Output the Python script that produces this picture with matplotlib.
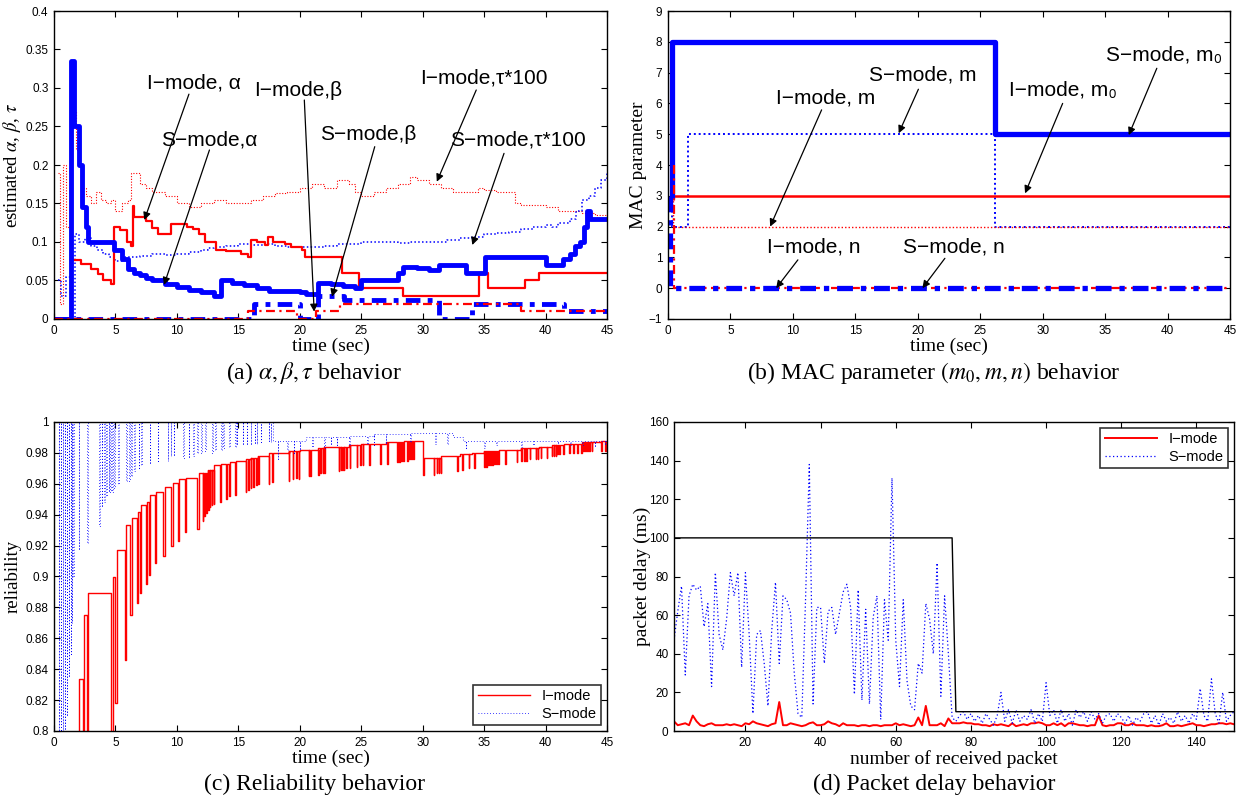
import matplotlib
matplotlib.use("Agg")
import matplotlib.pyplot as plt
import numpy as np
from matplotlib.ticker import FuncFormatter

plt.rcParams['font.family'] = ['Liberation Sans', 'DejaVu Sans']
plt.rcParams['mathtext.fontset'] = 'stix'

RED = '#ff0000'
BLUE = '#0000ff'
SERIF = ['Liberation Serif', 'DejaVu Serif']

# ---------------- (a) alpha, beta, tau ----------------
s_alpha_t = [0, 1.4, 1.6, 2.0, 2.3, 2.6, 2.8, 4.9, 5.5, 6.0, 6.5, 7.0, 7.5, 8.0, 9.0, 10.0, 11.0, 12.0, 13.0,
             13.6, 14.5, 15.5, 16.5, 17.5, 19.0, 20.0, 20.5, 21.5, 22.5, 23.5, 24.5, 25.0, 28.0, 28.4, 29.5,
             30.5, 31.3, 33.5, 35.1, 40.0, 41.4, 42.0, 42.4, 42.8, 43.1, 43.4, 43.6, 45.0]
s_alpha_v = [0, 0.335, 0.25, 0.2, 0.145, 0.12, 0.1, 0.09, 0.078, 0.065, 0.06, 0.057, 0.053, 0.05, 0.045, 0.042,
             0.038, 0.035, 0.03, 0.05, 0.047, 0.044, 0.04, 0.037, 0.036, 0.035, 0.032, 0.047, 0.045, 0.043, 0.04,
             0.05, 0.06, 0.068, 0.066, 0.063, 0.07, 0.06, 0.08, 0.07, 0.078, 0.085, 0.095, 0.1, 0.12, 0.14, 0.13,
             0.13]
i_alpha_t = [1.4, 2.2, 3.0, 3.6, 4.0, 4.6, 4.9, 5.4, 5.9, 6.3, 6.4, 6.5, 7.5, 8.0, 8.5, 9.5, 10.8, 11.3, 11.8,
             12.3, 13.2, 14.0, 15.2, 15.8, 16.0, 16.5, 17.2, 17.4, 17.8, 18.8, 19.3, 20.2, 20.4, 23.4, 24.8,
             28.4, 34.6, 35.3, 38.3, 39.5, 45.0]
i_alpha_v = [0.077, 0.072, 0.065, 0.058, 0.05, 0.045, 0.12, 0.115, 0.1, 0.095, 0.147, 0.132, 0.127, 0.118,
             0.11, 0.123, 0.12, 0.117, 0.11, 0.1, 0.09, 0.088, 0.085, 0.08, 0.103, 0.1, 0.096, 0.106, 0.1, 0.097,
             0.093, 0.09, 0.08, 0.06, 0.04, 0.03, 0.06, 0.04, 0.05, 0.06, 0.06]
i_tau_t = [0.3, 0.5, 0.7, 1.0, 1.3, 1.5, 1.8, 2.0, 2.3, 2.6, 3.0, 3.4, 3.8, 4.2, 4.6, 5.0, 5.5, 6.0, 6.3, 7.0,
           7.5, 8.0, 9.0, 10.0, 11.0, 12.0, 13.0, 14.0, 15.0, 16.0, 17.0, 18.0, 19.0, 20.0, 21.0, 22.0, 23.0,
           24.0, 24.5, 25.0, 26.0, 27.0, 28.0, 29.0, 29.5, 30.5, 31.5, 32.5, 33.5, 34.5, 35.0, 36.0, 37.5,
           38.0, 39.0, 40.0, 41.0, 42.0, 43.0, 44.0, 45.0]
i_tau_v = [0.19, 0.02, 0.2, 0.12, 0.18, 0.27, 0.22, 0.2, 0.17, 0.16, 0.15, 0.165, 0.155, 0.15, 0.155, 0.14,
           0.15, 0.155, 0.19, 0.175, 0.17, 0.165, 0.16, 0.15, 0.145, 0.15, 0.155, 0.15, 0.15, 0.155, 0.16,
           0.163, 0.165, 0.17, 0.175, 0.17, 0.18, 0.175, 0.165, 0.16, 0.165, 0.17, 0.175, 0.185, 0.18, 0.175,
           0.17, 0.165, 0.165, 0.17, 0.168, 0.165, 0.15, 0.148, 0.148, 0.145, 0.14, 0.14, 0.138, 0.135, 0.135]
s_tau_t = [0.3, 0.6, 1.0, 1.4, 1.7, 2.0, 2.5, 3.0, 3.5, 4.0, 4.5, 5.0, 5.5, 6.0, 7.0, 8.0, 9.0, 10.0, 11.0,
           12.0, 12.5, 13.0, 14.0, 15.0, 16.0, 17.0, 18.0, 19.0, 20.0, 21.0, 22.0, 23.0, 24.0, 25.0, 26.0,
           27.0, 28.0, 29.0, 30.0, 31.0, 32.0, 33.0, 34.0, 35.0, 36.0, 37.0, 38.0, 39.0, 40.0, 40.5, 41.0,
           42.0, 42.5, 43.0, 43.5, 44.0, 44.5, 45.0]
s_tau_v = [0.05, 0.03, 0.055, 0.0, 0.11, 0.1, 0.105, 0.095, 0.09, 0.085, 0.08, 0.075, 0.08, 0.08, 0.082, 0.085,
           0.083, 0.085, 0.087, 0.09, 0.092, 0.093, 0.095, 0.097, 0.096, 0.097, 0.095, 0.094, 0.093, 0.094,
           0.095, 0.097, 0.098, 0.1, 0.1, 0.1, 0.099, 0.1, 0.1, 0.1, 0.103, 0.105, 0.107, 0.11, 0.112, 0.113,
           0.117, 0.12, 0.122, 0.12, 0.125, 0.13, 0.14, 0.155, 0.16, 0.17, 0.18, 0.19]
i_beta_t = [0, 15.8, 19.8, 21.3, 23.3, 38.0, 45.0]
i_beta_v = [0, 0.01, 0, 0.01, 0.02, 0.01, 0.01]
s_beta_t = [0, 16.3, 20.0, 21.5, 23.6, 31.3, 34.0, 41.5, 45.0]
s_beta_v = [0, 0.02, 0.0, 0.03, 0.025, 0.0, 0.02, 0.01, 0.01]

ann_a_text = ["I\u2212mode, \u03b1", "S\u2212mode,\u03b1", "I\u2212mode,\u03b2", "S\u2212mode,\u03b2",
              "I\u2212mode,\u03c4*100", "S\u2212mode,\u03c4*100"]
ann_a_pos = [(11.37, 0.306), (12.65, 0.2325), (19.89, 0.2965), (25.58, 0.239), (35.0, 0.3126), (37.74, 0.2325)]
ann_a_start = [(10.98, 0.292), (12.65, 0.2195), (20.37, 0.2844), (26.1, 0.2238), (34.36, 0.2974), (36.62, 0.2151)]
ann_a_tip = [(7.35, 0.1286), (8.95, 0.0442), (21.17, 0.0095), (22.62, 0.029), (31.15, 0.1783), (34.04, 0.0961)]

# ---------------- (b) MAC parameters ----------------
s_m0_t = [0.3, 0.3, 26.2, 45.0]
s_m0_v = [3, 8, 5, 5]
i_m0_t = [0.5, 45.0]
i_m0_v = [3, 3]
s_m_t = [0.3, 0.3, 1.6, 26.2, 45.0]
s_m_v = [3, 2, 5, 2, 2]
i_m_t = [0.4, 0.4, 45.0]
i_m_v = [4.2, 2, 2]
i_n_t = [0.45, 0.45, 45.0]
i_n_v = [4, 0, 0]
s_n_t = [0.2, 0.2, 45.0]
s_n_v = [3, 0, 0]

ann_b_text = ["S\u2212mode, m", "I\u2212mode, m", "I\u2212mode, m\u2080", "S\u2212mode, m\u2080",
              "I\u2212mode, n", "S\u2212mode, n"]
ann_b_pos = [(20.37, 6.92), (12.61, 6.17), (31.6, 6.44), (39.7, 7.57), (11.67, 1.35), (22.9, 1.35)]
ann_b_start = [(20.05, 6.46), (12.3, 5.79), (31.6, 6.0), (39.14, 7.14), (10.4, 0.92), (22.17, 0.97)]
ann_b_tip = [(18.47, 5.03), (8.18, 2.0), (28.59, 3.08), (36.89, 4.97), (8.66, 0.0), (20.37, 0.0)]

# ---------------- (c) reliability ----------------
rel_i_env_t = [0, 2.0, 2.32, 2.48, 2.71, 2.77, 4.67, 4.77, 4.99, 5.12, 5.77, 5.89, 6.22, 6.31, 6.76, 6.86,
               7.02, 7.09, 7.47, 7.60, 7.73, 7.80, 8.21, 8.34, 8.83, 9.02, 9.50, 9.66, 10.05, 10.21, 10.63,
               10.76, 11.66, 11.79, 12.5, 13.0, 13.6, 14.3, 14.8, 15.6, 16.0, 16.6, 17.5, 19.1, 20.0, 21.5,
               22.0, 24.0, 25.0, 27.0, 28.5, 30.0, 31.5, 33.0, 34.0, 35.0, 36.2, 38.0, 39.5, 40.5, 41.5,
               43.0, 44.5]
rel_i_env_v = [0.7, 0.8335, 0.7, 0.875, 0.7, 0.889, 0.7, 0.9, 0.818, 0.917, 0.846, 0.9335, 0.875, 0.938,
               0.883, 0.9415, 0.889, 0.946, 0.895, 0.948, 0.901, 0.9525, 0.909, 0.955, 0.913, 0.958, 0.920,
               0.9605, 0.923, 0.963, 0.929, 0.964, 0.931, 0.967, 0.969, 0.972, 0.973, 0.974, 0.975, 0.976,
               0.977, 0.978, 0.980, 0.981, 0.982, 0.983, 0.984, 0.985, 0.986, 0.987, 0.988, 0.977, 0.978,
               0.979, 0.980, 0.981, 0.982, 0.983, 0.984, 0.985, 0.986, 0.987, 0.988]
rel_i_dip_t = [12.11, 12.24, 12.40, 12.56, 12.66, 12.82, 12.98, 13.53, 14.01, 14.24, 14.75, 15.59, 15.78,
               16.01, 16.23, 16.46, 16.62, 17.46, 17.78, 19.10, 19.42, 19.71, 19.91, 20.74, 20.87, 21.49,
               21.65, 21.87, 21.97, 23.16, 23.32, 23.45, 23.58, 23.77, 24.06, 24.64, 24.93, 25.13, 25.67,
               26.54, 27.12, 27.93, 28.09, 28.25, 28.41, 28.73, 28.89, 29.05, 29.22, 30.02, 30.89, 31.15,
               31.31, 31.47, 32.82, 33.24, 33.76, 34.21, 35.01, 35.17, 35.34, 35.50, 35.66, 35.82, 35.98,
               36.14, 36.72, 37.65, 38.01, 38.24, 38.40, 38.72, 39.20, 39.36, 39.59, 40.10, 40.49, 40.65,
               40.81, 40.97, 41.13, 41.46, 41.94, 42.26, 42.58, 42.91, 43.07, 43.23, 43.39, 43.55, 43.77,
               44.52, 44.84]
rel_i_dip_v = [0.936, 0.939, 0.941, 0.943, 0.945, 0.946, 0.947, 0.948, 0.950, 0.952, 0.953, 0.955, 0.956,
               0.957, 0.958, 0.959, 0.960, 0.960, 0.961, 0.962, 0.963, 0.964, 0.963, 0.965, 0.965, 0.966,
               0.967, 0.967, 0.967, 0.968, 0.969, 0.969, 0.969, 0.970, 0.970, 0.971, 0.972, 0.972, 0.972,
               0.973, 0.973, 0.974, 0.974, 0.975, 0.975, 0.975, 0.976, 0.976, 0.976, 0.966, 0.966, 0.967,
               0.967, 0.967, 0.968, 0.969, 0.970, 0.970, 0.971, 0.971, 0.972, 0.972, 0.972, 0.973, 0.973,
               0.973, 0.973, 0.974, 0.975, 0.975, 0.975, 0.976, 0.976, 0.976, 0.977, 0.977, 0.978, 0.978,
               0.978, 0.979, 0.979, 0.979, 0.980, 0.980, 0.980, 0.980, 0.981, 0.981, 0.981, 0.981, 0.981,
               0.981, 0.981]
rel_s_env_t = [0, 17.8, 20.5, 24.0, 26.0, 29.0, 32.5, 33.3]
rel_s_env_v = [1.0, 0.988, 0.99, 0.991, 0.992, 0.993, 0.99, 0.988]
rel_s_dip_t = [0.39, 0.55, 0.71, 0.87, 1.03, 1.19, 1.35, 1.45, 1.55, 2.0, 2.71, 3.70, 3.87, 4.09, 4.25, 4.45,
               4.57, 4.73, 4.90, 5.22, 5.86, 6.12, 6.28, 6.51, 6.89, 7.09, 7.80, 8.44, 9.24, 9.50, 9.73,
               10.53, 10.95, 11.34, 11.66, 11.98, 12.30, 12.88, 13.11, 13.59, 13.75, 14.24, 14.72, 14.88,
               15.36, 15.69, 16.01, 16.33, 16.49, 16.81, 17.46, 17.62, 18.2, 19.0, 19.5, 20.0, 21.0, 22.0,
               22.5, 23.0, 24.0, 25.5, 26.0, 27.0, 29.0, 31.0, 32.0, 33.5, 35.0, 36.0, 38.0, 39.0, 41.0,
               42.0, 43.0, 44.0, 44.8]
rel_s_dip_v = [0.78, 0.79, 0.80, 0.79, 0.81, 0.835, 0.85, 0.87, 0.90, 0.917, 0.922, 0.933, 0.945, 0.948,
               0.952, 0.955, 0.955, 0.955, 0.957, 0.960, 0.962, 0.962, 0.965, 0.968, 0.970, 0.972, 0.973,
               0.975, 0.975, 0.978, 0.978, 0.977, 0.977, 0.978, 0.980, 0.980, 0.981, 0.980, 0.982, 0.982,
               0.983, 0.984, 0.984, 0.985, 0.985, 0.985, 0.985, 0.986, 0.986, 0.987, 0.988, 0.987, 0.976,
               0.982, 0.980, 0.982, 0.984, 0.983, 0.985, 0.985, 0.985, 0.986, 0.985, 0.986, 0.987, 0.986,
               0.986, 0.983, 0.983, 0.985, 0.984, 0.985, 0.986, 0.985, 0.985, 0.984, 0.985]

# ---------------- (d) packet delay ----------------
delay_s = [47, 62, 75, 29, 70, 76, 73, 75, 54, 66, 23, 82, 50, 42, 58, 82, 70, 82, 33, 82,
           50, 9, 50, 52, 35, 13, 52, 77, 35, 70, 68, 61, 30, 9, 7, 68, 138, 14, 64, 64,
           35, 62, 64, 50, 61, 72, 76, 64, 19, 73, 16, 63, 14, 59, 70, 6, 68, 47, 131, 47,
           23, 68, 26, 13, 11, 35, 30, 66, 58, 40, 87, 18, 70, 40, 7,
           5, 8, 10, 6, 9, 5, 8, 4, 9, 6, 3, 8, 20, 5, 11, 4, 11, 5, 8, 6,
           11, 4, 9, 5, 25, 8, 11, 4, 11, 5, 9, 3, 11, 7, 10, 5, 10, 6, 9, 4,
           8, 9, 5, 9, 7, 4, 8, 3, 7, 5, 9, 10, 4, 8, 3, 9, 5, 7, 4, 10,
           5, 8, 4, 9, 6, 22, 8, 5, 27, 9, 4, 20, 5, 8, 10]
delay_i = [5, 3, 3.5, 4, 3, 8, 5, 3, 2.5, 3.5, 4, 3, 3, 3, 3.5, 3, 3.5, 3, 2.5, 4,
           3.5, 5, 4, 3.5, 3, 2.5, 3.5, 4, 15, 3, 3, 4, 3.5, 3, 2.5, 3, 4, 4.5, 3, 3,
           3.5, 5, 4, 3.5, 2.5, 4, 3, 3, 3, 2.5, 3, 3, 2.5, 3, 3, 2.5, 3, 3, 3, 4,
           3, 3.5, 3, 2.5, 3, 7, 3, 13, 3, 3, 3, 4, 2.5, 6.5, 4, 4, 4, 4.5, 4, 4,
           3.5, 3.5, 3, 3, 2.5, 3.5, 3, 3.5, 3, 2.5, 4, 2.5, 3, 3.5, 3, 4, 4, 4.5, 4, 3,
           3, 4, 3, 4, 2.5, 4, 4, 3.5, 3, 3, 2.5, 3, 3, 8, 3, 2.5, 3, 3, 4, 4,
           3, 3, 4, 3, 3, 3, 2.5, 3, 2.5, 2.5, 3, 4, 2.5, 2.5, 3, 2.5, 3, 3.5, 4, 3,
           3, 2.5, 3, 3.5, 3.5, 4, 4, 3.5, 4, 3.5]
bound_x = [1, 75, 76, 150]
bound_y = [100, 100, 10, 10]


def steps_with_dips(env_t, env_v, dip_t, dip_v, t_end, w):
    ev = sorted([(t, 0, v) for t, v in zip(env_t, env_v)] + [(t, 1, v) for t, v in zip(dip_t, dip_v)])
    xs, ys = [], []
    cur = env_v[0]
    for t, k, v in ev:
        if k == 0:
            xs += [t, t]
            ys += [cur, v]
            cur = v
        else:
            xs += [t, t, t + w, t + w]
            ys += [cur, v, v, cur]
    xs.append(t_end)
    ys.append(cur)
    return xs, ys


def style_axes(ax):
    ax.tick_params(direction='in', top=True, right=True, length=4, width=0.8, labelsize=8.5, pad=4)
    for s in ax.spines.values():
        s.set_linewidth(1.0)


def gfmt(v, pos=None):
    return ('%g' % round(v, 6))


LABEL_FS = 14
CAP_FS = 17

fig = plt.figure(figsize=(12.43, 8), dpi=100)
W, H = 1243.0, 800.0
ax_a = fig.add_axes([54 / W, 1 - 319 / H, (607 - 54) / W, 308 / H])
ax_b = fig.add_axes([668 / W, 1 - 319 / H, (1230 - 668) / W, 308 / H])
ax_c = fig.add_axes([54 / W, 1 - 731 / H, (607 - 54) / W, 309 / H])
ax_d = fig.add_axes([674 / W, 1 - 731 / H, (1234 - 674) / W, 309 / H])


def arrow(ax, s, tip):
    ax.annotate('', xy=tip, xytext=s,
                arrowprops=dict(arrowstyle='-|>', color='k', lw=0.9, mutation_scale=11,
                                shrinkA=0, shrinkB=0))


def ylab(ax, text, x_px, ax_left_px, ax_w_px, fs=LABEL_FS):
    ax.set_ylabel(text, fontsize=fs, family=SERIF, va='center')
    ax.yaxis.set_label_coords((x_px - ax_left_px) / ax_w_px, 0.5)


# ---- (a)
ax = ax_a
ax.plot(i_tau_t, i_tau_v, drawstyle='steps-post', color=RED, lw=0.8, ls=(0, (1, 1.5)))
ax.plot(s_tau_t, s_tau_v, drawstyle='steps-post', color=BLUE, lw=1.1, ls=(0, (1, 1.5)))
ax.plot(i_alpha_t, i_alpha_v, drawstyle='steps-post', color=RED, lw=1.6)
ax.plot(s_alpha_t, s_alpha_v, drawstyle='steps-post', color=BLUE, lw=3.5)
ax.plot(s_beta_t, s_beta_v, drawstyle='steps-post', color=BLUE, lw=3.5, ls=(0, (3, 1.5, 1, 1.5)))
ax.plot(i_beta_t, i_beta_v, drawstyle='steps-post', color=RED, lw=1.6, ls=(0, (4, 2, 1, 2)))
ax.set_xlim(0, 45)
ax.set_ylim(0, 0.4)
ax.set_xticks(np.arange(0, 46, 5))
ax.set_yticks(np.arange(0, 0.401, 0.05))
ax.yaxis.set_major_formatter(FuncFormatter(gfmt))
style_axes(ax)
ax.set_xlabel('time (sec)', fontsize=LABEL_FS, family=SERIF, labelpad=1)
ylab(ax, r'estimated $\alpha$, $\beta$, $\tau$', 12, 54, 553, 13.5)
for txt, p, s, tip in zip(ann_a_text, ann_a_pos, ann_a_start, ann_a_tip):
    ax.text(p[0], p[1], txt, ha='center', va='center', fontsize=15)
    arrow(ax, s, tip)

# ---- (b)
ax = ax_b
ax.plot(s_m_t, s_m_v, drawstyle='steps-post', color=BLUE, lw=1.4, ls=(0, (1, 1.5)))
ax.plot(i_m_t, i_m_v, drawstyle='steps-post', color=RED, lw=1.0, ls=(0, (1, 1.5)))
ax.plot(i_m0_t, i_m0_v, drawstyle='steps-post', color=RED, lw=1.8)
ax.plot(s_m0_t, s_m0_v, drawstyle='steps-post', color=BLUE, lw=3.8)
ax.plot(i_n_t, i_n_v, drawstyle='steps-post', color=RED, lw=1.6, ls=(0, (4, 2, 1, 2)))
ax.plot(s_n_t, s_n_v, drawstyle='steps-post', color=BLUE, lw=3.8, ls=(0, (3, 1.5, 1, 1.5)))
ax.set_xlim(0, 45)
ax.set_ylim(-1, 9)
ax.set_xticks(np.arange(0, 46, 5))
ax.set_yticks(np.arange(-1, 10, 1))
style_axes(ax)
ax.set_xlabel('time (sec)', fontsize=LABEL_FS, family=SERIF, labelpad=1)
ylab(ax, 'MAC parameter', 639, 668, 562)
for txt, p, s, tip in zip(ann_b_text, ann_b_pos, ann_b_start, ann_b_tip):
    ax.text(p[0], p[1], txt, ha='center', va='center', fontsize=15)
    arrow(ax, s, tip)

# ---- (c)
ax = ax_c
xi, yi = steps_with_dips(rel_i_env_t, rel_i_env_v, rel_i_dip_t, rel_i_dip_v, 45, 0.05)
xs_, ys_ = steps_with_dips(rel_s_env_t, rel_s_env_v, rel_s_dip_t, rel_s_dip_v, 45, 0.05)
ax.plot(xi, yi, color=RED, lw=1.0, label='I\u2212mode')
ax.plot(xs_, ys_, color=BLUE, lw=0.6, ls=(0, (1, 2.5)), label='S\u2212mode')
ax.set_xlim(0, 45)
ax.set_ylim(0.8, 1.0)
ax.set_xticks(np.arange(0, 46, 5))
ax.set_yticks(np.arange(0.8, 1.0001, 0.02))
ax.yaxis.set_major_formatter(FuncFormatter(gfmt))
style_axes(ax)
ax.set_xlabel('time (sec)', fontsize=LABEL_FS, family=SERIF, labelpad=1)
ylab(ax, 'reliability', 13, 54, 553, 13.5)
leg = ax.legend(loc='lower right', fontsize=10.5, frameon=True, fancybox=False, edgecolor='k',
                borderaxespad=0.4, handlelength=3.6, borderpad=0.3, labelspacing=0.25)
leg.get_frame().set_linewidth(1.2)

# ---- (d)
ax = ax_d
n = np.arange(1, len(delay_s) + 1)
ax.plot(n, delay_i, color=RED, lw=1.4, label='I\u2212mode')
ax.plot(n, delay_s, color=BLUE, lw=0.9, ls=(0, (1, 2)), label='S\u2212mode')
ax.plot(bound_x, bound_y, color='k', lw=1.0)
ax.set_xlim(1, 150)
ax.set_ylim(0, 160)
ax.set_xticks(np.arange(20, 141, 20))
ax.set_yticks(np.arange(0, 161, 20))
style_axes(ax)
ax.set_xlabel('number of received packet', fontsize=LABEL_FS, family=SERIF, labelpad=1)
ylab(ax, 'packet delay (ms)', 642, 674, 560)
leg = ax.legend(loc='upper right', fontsize=10.5, frameon=True, fancybox=False, edgecolor='k',
                borderaxespad=0.4, handlelength=3.6, borderpad=0.3, labelspacing=0.25)
leg.get_frame().set_linewidth(1.2)

# captions
fig.text(314 / W, 1 - 373 / H, r'(a) $\alpha, \beta, \tau$ behavior', ha='center', va='center',
         fontsize=CAP_FS, family=SERIF)
fig.text(934 / W, 1 - 373 / H, r'(b) MAC parameter $(m_0, m, n)$ behavior', ha='center', va='center',
         fontsize=CAP_FS, family=SERIF)
fig.text(314 / W, 1 - 784 / H, '(c) Reliability behavior', ha='center', va='center',
         fontsize=CAP_FS, family=SERIF)
fig.text(934 / W, 1 - 784 / H, '(d) Packet delay behavior', ha='center', va='center',
         fontsize=CAP_FS, family=SERIF)

fig.savefig('out.png', dpi=100)
